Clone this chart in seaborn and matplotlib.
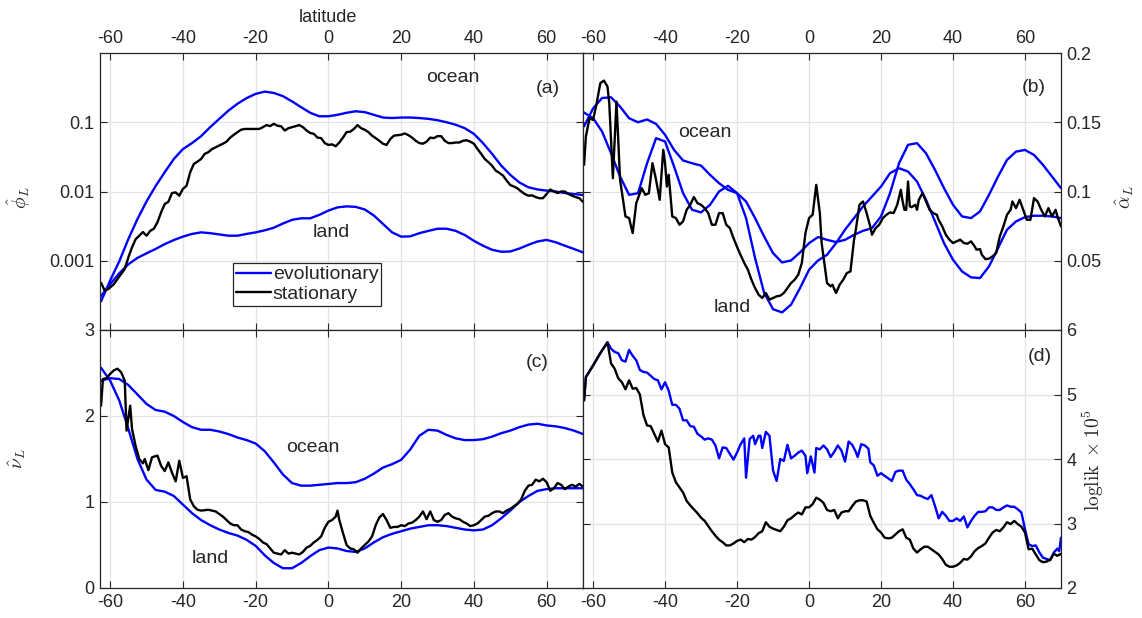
import matplotlib
matplotlib.use("Agg")
import matplotlib.pyplot as plt
import seaborn as sns
import numpy as np
import pandas as pd
from matplotlib.ticker import NullLocator, FixedLocator

# ---------------- DATA ----------------
lat_smooth = [-62.5, -60, -57.5, -55, -52.5, -50, -47.5, -45, -42.5, -40,
              -37.5, -35, -32.5, -30, -27.5, -25, -22.5, -20, -17.5, -15,
              -12.5, -10, -7.5, -5, -2.5, 0, 2.5, 5, 7.5, 10,
              12.5, 15, 17.5, 20, 22.5, 25, 27.5, 30, 32.5, 35,
              37.5, 40, 42.5, 45, 47.5, 50, 52.5, 55, 57.5, 60,
              62.5, 65, 67.5, 70]

# (a) phi_L
phi_ocean_evo = [2.6e-4, 5.2e-4, 9.8e-4, 2.06e-3, 4.0e-3, 7.2e-3, 1.2e-2, 1.9e-2, 2.95e-2, 4.1e-2,
                 5.0e-2, 6.3e-2, 8.5e-2, 0.112, 0.147, 0.185, 0.223, 0.257, 0.277, 0.265,
                 0.238, 0.20, 0.165, 0.137, 0.122, 0.122, 0.128, 0.137, 0.144, 0.140,
                 0.128, 0.117, 0.115, 0.117, 0.117, 0.115, 0.112, 0.107, 0.100, 0.092,
                 0.082, 0.068, 0.050, 0.035, 0.0237, 0.0174, 0.0135, 0.0115, 0.0107, 0.0103,
                 0.0100, 0.0095, 0.0092, 0.0089]
phi_land_evo = [3.1e-4, 4.6e-4, 6.6e-4, 8.9e-4, 1.1e-3, 1.28e-3, 1.48e-3, 1.74e-3, 1.99e-3, 2.23e-3,
                2.44e-3, 2.57e-3, 2.5e-3, 2.4e-3, 2.3e-3, 2.3e-3, 2.44e-3, 2.57e-3, 2.75e-3, 3.0e-3,
                3.45e-3, 3.9e-3, 4.1e-3, 4.1e-3, 4.6e-3, 5.3e-3, 5.9e-3, 6.1e-3, 6.0e-3, 5.5e-3,
                4.5e-3, 3.4e-3, 2.57e-3, 2.23e-3, 2.25e-3, 2.5e-3, 2.7e-3, 2.9e-3, 2.9e-3, 2.7e-3,
                2.35e-3, 1.94e-3, 1.65e-3, 1.44e-3, 1.35e-3, 1.36e-3, 1.5e-3, 1.7e-3, 1.9e-3, 2.0e-3,
                1.85e-3, 1.65e-3, 1.48e-3, 1.32e-3]
lat_phi_stat = [-62.5, -61.5, -60.5, -59, -57.5, -56] + list(range(-55, 71))
phi_stat = [4.8e-4, 3.7e-4, 3.9e-4, 4.6e-4, 5.9e-4, 7.6e-4,
            1.12e-3, 1.56e-3, 2.05e-3, 2.3e-3, 2.6e-3, 2.3e-3, 2.7e-3, 2.9e-3, 3.6e-3, 5.0e-3,
            6.6e-3, 7.1e-3, 9.5e-3, 9.7e-3, 8.7e-3, 1.09e-2, 1.21e-2, 1.9e-2, 2.5e-2, 2.7e-2,
            2.95e-2, 3.5e-2, 3.7e-2, 4.1e-2, 4.35e-2, 4.6e-2, 4.9e-2, 5.25e-2, 6.0e-2, 6.6e-2,
            7.2e-2, 7.8e-2, 8.0e-2, 8.0e-2, 8.0e-2, 8.0e-2, 8.0e-2, 8.5e-2, 9.1e-2, 8.8e-2,
            9.5e-2, 8.9e-2, 8.75e-2, 7.6e-2, 8.2e-2, 8.5e-2, 8.8e-2, 9.1e-2, 8.5e-2, 7.6e-2,
            7.0e-2, 6.8e-2, 6.0e-2, 5.9e-2, 5.0e-2, 4.7e-2, 4.8e-2, 4.5e-2, 5.1e-2, 6.0e-2,
            7.2e-2, 7.3e-2, 8.0e-2, 9.1e-2, 8.2e-2, 7.8e-2, 7.2e-2, 6.4e-2, 5.9e-2, 5.4e-2,
            4.9e-2, 4.7e-2, 5.7e-2, 6.4e-2, 6.5e-2, 6.6e-2, 6.9e-2, 6.5e-2, 6.0e-2, 5.4e-2,
            5.0e-2, 4.9e-2, 5.25e-2, 6.0e-2, 5.9e-2, 6.3e-2, 6.3e-2, 5.4e-2, 5.0e-2, 5.0e-2,
            5.1e-2, 5.1e-2, 5.4e-2, 5.5e-2, 5.25e-2, 4.9e-2, 4.1e-2, 3.5e-2, 2.95e-2, 2.65e-2,
            2.36e-2, 2.0e-2, 1.86e-2, 1.7e-2, 1.44e-2, 1.24e-2, 1.18e-2, 1.11e-2, 1.0e-2, 9.2e-3,
            8.7e-3, 8.8e-3, 8.3e-3, 8.0e-3, 8.0e-3, 9.2e-3, 1.07e-2, 1.0e-2, 9.5e-3, 1.0e-2,
            1.0e-2, 9.2e-3, 8.7e-3, 8.3e-3, 8.0e-3, 7.1e-3]

# (b) alpha_L
alpha_ocean_evo = [0.147, 0.160, 0.1675, 0.168, 0.1613, 0.1529, 0.150, 0.152, 0.1488, 0.1409,
                   0.130, 0.1224, 0.1204, 0.1187, 0.112, 0.106, 0.1012, 0.0988, 0.0928, 0.0808,
                   0.0676, 0.0555, 0.0488, 0.0502, 0.056, 0.0627, 0.0671, 0.0651, 0.0635, 0.0651,
                   0.0687, 0.0716, 0.0736, 0.082, 0.0988, 0.1204, 0.1337, 0.1349, 0.1276, 0.1156,
                   0.1024, 0.0904, 0.082, 0.0808, 0.0856, 0.0976, 0.1108, 0.1228, 0.1288, 0.130,
                   0.1264, 0.1192, 0.1108, 0.1024]
alpha_land_evo = [0.157, 0.1529, 0.1433, 0.1276, 0.1108, 0.0976, 0.0988, 0.1204, 0.1385, 0.1361,
                  0.118, 0.0988, 0.0868, 0.0849, 0.0904, 0.100, 0.1041, 0.0988, 0.0808, 0.052,
                  0.027, 0.015, 0.0127, 0.0183, 0.0303, 0.0435, 0.0502, 0.0543, 0.0627, 0.0724,
                  0.0808, 0.0892, 0.0964, 0.1036, 0.1132, 0.1168, 0.1144, 0.1072, 0.094, 0.0784,
                  0.0627, 0.0507, 0.0423, 0.038, 0.0375, 0.0459, 0.0591, 0.0724, 0.0784, 0.0815,
                  0.0825, 0.0825, 0.082, 0.0808]
lat_alpha_stat = [-62.5, -62, -61, -60, -59, -58, -57, -56, -55.5, -54.5, -53.5, -52.5, -51, -50,
                  -49, -48, -46.5, -45.5, -44.5, -43.5, -42.5, -41.5, -40.5, -40, -39.5, -39, -38,
                  -37, -36, -35, -34, -33, -32, -31, -30, -29, -28, -27, -26, -25, -24, -23, -22,
                  -21, -20, -19, -18, -17, -16, -15, -14, -13, -12, -11, -10, -9, -8, -7, -6, -5,
                  -4, -3, -2, -1, 0, 1, 2, 3, 3.5, 4, 5, 6, 6.5, 7.5, 8.5, 9.5, 10.5, 11.5, 12.5,
                  13, 14, 15, 16, 17, 17.5, 18.5, 19.5, 20.5, 21.5, 22.5, 23.5, 24.5, 25.5, 26,
                  26.5, 27, 27.5, 28, 28.5, 29.5, 30, 30.5, 31.5, 32.5, 33.5, 34.5, 35.5, 36, 37,
                  38, 39, 40, 41, 42, 43, 44, 45, 46, 46.5, 47.5, 48, 49, 50, 51, 52, 53, 54, 55,
                  56, 56.5, 57.5, 58.5, 59.5, 60.5, 61.5, 62.5, 63.5, 64.5, 65.5, 66.5, 67.5,
                  68.5, 69, 70]
alpha_stat = [0.1193, 0.1397, 0.1529, 0.1517, 0.1637, 0.1782, 0.1801, 0.1758, 0.1637, 0.1096,
              0.1649, 0.1084, 0.0820, 0.0808, 0.0700, 0.0916, 0.1024, 0.0976, 0.0988, 0.1205,
              0.1084, 0.0940, 0.1301, 0.1205, 0.1036, 0.1121, 0.0820, 0.0808, 0.0760, 0.0784,
              0.0868, 0.0904, 0.0960, 0.0916, 0.0904, 0.0880, 0.0844, 0.0760, 0.0760, 0.0844,
              0.0844, 0.0760, 0.0736, 0.0664, 0.0600, 0.0540, 0.0484, 0.0436, 0.0363, 0.0303,
              0.0255, 0.0231, 0.0267, 0.0219, 0.0231, 0.0243, 0.0248, 0.0267, 0.0303, 0.0339,
              0.0363, 0.0399, 0.0484, 0.0700, 0.0808, 0.0832, 0.1048, 0.0844, 0.0628, 0.0532,
              0.0339, 0.0315, 0.0327, 0.0267, 0.0327, 0.0363, 0.0411, 0.0423, 0.0652, 0.0724,
              0.0904, 0.0928, 0.0844, 0.0748, 0.0688, 0.0736, 0.0760, 0.0808, 0.0832, 0.0849,
              0.0844, 0.0904, 0.1012, 0.0928, 0.0868, 0.0868, 0.1072, 0.0892, 0.0887, 0.0904,
              0.0868, 0.0940, 0.0988, 0.0928, 0.0868, 0.0844, 0.0832, 0.0796, 0.0748, 0.0688,
              0.0652, 0.0628, 0.0640, 0.0652, 0.0628, 0.0623, 0.0640, 0.0604, 0.0580, 0.0584,
              0.0544, 0.0512, 0.0515, 0.0532, 0.0556, 0.0676, 0.0748, 0.0832, 0.0868, 0.0928,
              0.0880, 0.0940, 0.0868, 0.0796, 0.0796, 0.0952, 0.0928, 0.0868, 0.0820, 0.0880,
              0.0820, 0.0868, 0.0820, 0.0748]

# (c) nu_L
nu_ocean_evo = [2.41, 2.44, 2.43, 2.36, 2.25, 2.14, 2.07, 2.05, 2.00, 1.93,
                1.87, 1.84, 1.84, 1.82, 1.79, 1.75, 1.72, 1.68, 1.59, 1.46,
                1.32, 1.22, 1.19, 1.19, 1.20, 1.21, 1.22, 1.22, 1.23, 1.27,
                1.33, 1.40, 1.44, 1.49, 1.61, 1.77, 1.84, 1.83, 1.78, 1.74,
                1.72, 1.72, 1.73, 1.76, 1.80, 1.83, 1.87, 1.90, 1.91, 1.89,
                1.88, 1.86, 1.83, 1.79]
nu_land_evo = [2.56, 2.41, 2.18, 1.85, 1.50, 1.26, 1.14, 1.12, 1.07, 0.97,
               0.87, 0.79, 0.73, 0.68, 0.64, 0.61, 0.56, 0.49, 0.38, 0.29,
               0.23, 0.23, 0.29, 0.37, 0.44, 0.47, 0.46, 0.43, 0.42, 0.46,
               0.53, 0.59, 0.63, 0.66, 0.69, 0.71, 0.73, 0.73, 0.72, 0.70,
               0.68, 0.67, 0.68, 0.73, 0.81, 0.90, 1.00, 1.07, 1.13, 1.15,
               1.16, 1.16, 1.16, 1.16]
lat_nu_stat = ([-62.5, -62, -61, -60, -59, -58, -57, -56, -55.5, -54.5, -54, -53, -52, -51,
                -50.5, -49.5, -48.5, -47, -46, -45, -44, -43, -42, -41, -40, -39, -38, -37,
                -36, -35, -33, -31] + list(range(-30, 3)) + [2.5] + list(range(3, 71)))
nu_stat = [2.12, 2.43, 2.44, 2.49, 2.53, 2.55, 2.51, 2.41, 1.83, 2.12, 1.85, 1.65, 1.50, 1.45,
           1.50, 1.37, 1.52, 1.54, 1.42, 1.36, 1.46, 1.34, 1.24, 1.48, 1.28, 1.30, 1.03, 0.95,
           0.91, 0.90, 0.91, 0.89,
           0.86, 0.83, 0.79, 0.75, 0.73, 0.73, 0.68, 0.66, 0.65, 0.62,
           0.60, 0.57, 0.53, 0.51, 0.46, 0.41, 0.40, 0.39, 0.44, 0.40,
           0.41, 0.40, 0.39, 0.42, 0.47, 0.49, 0.53, 0.56, 0.60, 0.70,
           0.77, 0.79, 0.83,
           0.90,
           0.79, 0.64, 0.50, 0.46, 0.45, 0.41, 0.46, 0.50, 0.54, 0.60,
           0.73, 0.82, 0.86, 0.79, 0.70, 0.71, 0.71, 0.73, 0.72, 0.75,
           0.76, 0.79, 0.83, 0.89, 0.80, 0.89, 0.79, 0.77, 0.79, 0.85,
           0.87, 0.83, 0.81, 0.80, 0.77, 0.75, 0.72, 0.73, 0.75, 0.79,
           0.83, 0.84, 0.87, 0.89, 0.89, 0.87, 0.90, 0.92, 0.95, 0.98,
           1.03, 1.13, 1.19, 1.20, 1.26, 1.24, 1.27, 1.23, 1.13, 1.16,
           1.22, 1.20, 1.15, 1.18, 1.20, 1.18, 1.21, 1.18]

# (d) loglik x 1e5
lat_ll_evo = ([-62.5, -62, -60, -58, -56] + list(range(-55, -17)) +
              [-17.5, -16.5, -15.5, -15, -14, -13.5, -13, -12, -11, -10, -9, -8, -7, -6, -5,
               -4, -3, -2, -1, -0.5, 0.5, 1.5] + list(range(2, 14)) +
              [13.5, 14.5, 15.5, 16.5] + list(range(17, 70)) + [69.5, 70])
ll_evo = [4.91, 5.27, 5.45, 5.64, 5.81,
          5.71, 5.66, 5.64, 5.53, 5.51, 5.69, 5.60, 5.53, 5.38, 5.35,
          5.34, 5.29, 5.24, 5.22, 5.08, 5.19, 5.06, 4.84, 4.84, 4.78,
          4.60, 4.60, 4.51, 4.50, 4.39, 4.35, 4.30, 4.32, 4.30, 4.21,
          4.01, 4.18, 4.17, 4.08, 3.99, 4.10, 4.23, 4.32,
          3.71, 4.31, 4.36, 4.23, 4.36, 4.36, 4.17, 4.42, 4.36, 3.82, 3.66, 4.00, 3.97, 4.22,
          4.01, 4.05, 4.10, 4.13, 4.05, 3.78, 4.04, 3.79,
          4.17, 4.15, 4.21, 4.15, 4.03, 4.11, 4.21, 4.13, 3.96, 4.27, 4.22, 4.11,
          4.03, 4.23, 4.21, 4.16,
          3.95, 3.90, 3.74, 3.78, 3.74, 3.70, 3.66, 3.80, 3.82, 3.82,
          3.68, 3.61, 3.53, 3.44, 3.43, 3.40, 3.38, 3.44, 3.27, 3.08,
          3.18, 3.12, 3.04, 3.04, 3.08, 3.04, 3.11, 2.94, 3.04, 3.12,
          3.18, 3.18, 3.19, 3.25, 3.25, 3.21, 3.21, 3.25, 3.28, 3.26,
          3.26, 3.22, 3.17, 2.91, 2.68, 2.65, 2.66, 2.55, 2.47, 2.45,
          2.43, 2.55, 2.61,
          2.57, 2.78]
lat_ll_stat = [-62.5, -62, -60, -58, -56] + list(range(-55, 71))
ll_stat = [4.91, 5.27, 5.45, 5.64, 5.81,
           5.48, 5.40, 5.25, 5.19, 5.08, 5.22, 5.09, 5.10, 5.00, 4.68,
           4.52, 4.51, 4.39, 4.27, 4.44, 4.23, 4.18, 3.79, 3.64, 3.56,
           3.48, 3.35, 3.28, 3.22, 3.16, 3.09, 3.04, 2.96, 2.88, 2.81,
           2.75, 2.71, 2.66, 2.66, 2.69, 2.73, 2.75, 2.71, 2.76, 2.75,
           2.79, 2.85, 2.88, 3.02, 2.95, 2.92, 2.90, 2.88, 2.95, 3.05,
           3.08, 3.13, 3.17, 3.14, 3.25, 3.25, 3.30, 3.40, 3.37, 3.32,
           3.21, 3.19, 3.21, 3.08, 3.17, 3.19, 3.19, 3.27, 3.34, 3.36,
           3.36, 3.34, 3.12, 3.01, 2.91, 2.86, 2.78, 2.77, 2.78, 2.83,
           2.88, 2.91, 2.78, 2.75, 2.61, 2.55, 2.60, 2.64, 2.64, 2.60,
           2.56, 2.52, 2.45, 2.36, 2.33, 2.33, 2.35, 2.39, 2.45, 2.44,
           2.49, 2.57, 2.62, 2.65, 2.69, 2.78, 2.86, 2.90, 2.88, 2.94,
           3.02, 2.99, 3.04, 2.99, 2.95, 2.86, 2.60, 2.61, 2.52, 2.43,
           2.40, 2.41, 2.44, 2.53, 2.50, 2.53]

xtick_vals = [-60, -40, -20, 0, 20, 40, 60]
xtick_labels = ["-60", "-40", "-20", "0", "20", "40", "60"]

# ---------------- STYLE ----------------
sns.set_theme(style="whitegrid")
plt.rcParams["font.family"] = ["Liberation Sans", "DejaVu Sans"]
plt.rcParams["mathtext.fontset"] = "cm"

BLUE = "#0000ff"
BLACK = "#000000"
EDGE = "#262626"
LW = 1.7
TICK_FS = 13
TXT_FS = 14

fig = plt.figure(figsize=(11.42, 6.18), dpi=100)
L, M, R = 100 / 1142, 583 / 1142, 1061 / 1142
T, MID, B = 1 - 53 / 618, 1 - 330 / 618, 1 - 588 / 618
ax_a = fig.add_axes([L, MID, M - L, T - MID])
ax_b = fig.add_axes([M, MID, R - M, T - MID])
ax_c = fig.add_axes([L, B, M - L, MID - B])
ax_d = fig.add_axes([M, B, R - M, MID - B])

def line(ax, x, y, color, label=None):
    sns.lineplot(x=x, y=y, ax=ax, color=color, lw=LW, estimator=None, sort=False,
                 label=label if label else "_nolegend_", legend=False)

# (a)
line(ax_a, lat_smooth, phi_ocean_evo, BLUE, "evolutionary")
line(ax_a, lat_smooth, phi_land_evo, BLUE)
line(ax_a, lat_phi_stat, phi_stat, BLACK, "stationary")
ax_a.set_yscale("log")
ax_a.set_ylim(1e-4, 1)
ax_a.yaxis.set_major_locator(FixedLocator([1e-3, 1e-2, 1e-1]))
ax_a.set_yticklabels(["0.001", "0.01", "0.1"])
ax_a.yaxis.set_minor_locator(NullLocator())

# (b)
line(ax_b, lat_smooth, alpha_ocean_evo, BLUE)
line(ax_b, lat_smooth, alpha_land_evo, BLUE)
line(ax_b, lat_alpha_stat, alpha_stat, BLACK)
ax_b.set_ylim(0, 0.2)
ax_b.set_yticks([0.05, 0.1, 0.15, 0.2])
ax_b.set_yticklabels(["0.05", "0.1", "0.15", "0.2"])

# (c)
line(ax_c, lat_smooth, nu_ocean_evo, BLUE)
line(ax_c, lat_smooth, nu_land_evo, BLUE)
line(ax_c, lat_nu_stat, nu_stat, BLACK)
ax_c.set_ylim(0, 3)
ax_c.set_yticks([0, 1, 2, 3])
ax_c.set_yticklabels(["0", "1", "2", "3"])

# (d)
line(ax_d, lat_ll_evo, ll_evo, BLUE)
line(ax_d, lat_ll_stat, ll_stat, BLACK)
ax_d.set_ylim(2, 6)
ax_d.set_yticks([2, 3, 4, 5, 6])
ax_d.set_yticklabels(["2", "3", "4", "5", "6"])

for ax in (ax_a, ax_b, ax_c, ax_d):
    ax.set_xlim(-62.8, 70)
    ax.set_xticks(xtick_vals)
    ax.set_xticklabels(xtick_labels)
    ax.set_xlabel("")
    ax.set_ylabel("")
    ax.grid(True, color="#e3e3e3", lw=0.9)
    ax.set_axisbelow(True)
    for s in ax.spines.values():
        s.set_visible(True)
        s.set_color(EDGE)
        s.set_linewidth(0.9)
    ax.tick_params(axis="both", which="both", direction="in", length=5, width=0.8,
                   color=EDGE, labelcolor=EDGE, labelsize=TICK_FS,
                   top=True, bottom=True, left=True, right=True, pad=4)

for ax in (ax_a, ax_b):
    ax.tick_params(axis="x", labeltop=True, labelbottom=False)
for ax in (ax_c, ax_d):
    ax.tick_params(axis="x", labeltop=False, labelbottom=True)
for ax in (ax_b, ax_d):
    ax.tick_params(axis="y", labelleft=False, labelright=True)
for ax in (ax_a, ax_c):
    ax.tick_params(axis="y", labelleft=True, labelright=False)

# annotations
ax_a.text(0.731, 0.913, "ocean", transform=ax_a.transAxes, ha="center", va="center", fontsize=TXT_FS)
ax_a.text(0.478, 0.351, "land", transform=ax_a.transAxes, ha="center", va="center", fontsize=TXT_FS)
ax_a.text(0.928, 0.873, "(a)", transform=ax_a.transAxes, ha="center", va="center", fontsize=TXT_FS)
ax_b.text(0.254, 0.714, "ocean", transform=ax_b.transAxes, ha="center", va="center", fontsize=TXT_FS)
ax_b.text(0.312, 0.080, "land", transform=ax_b.transAxes, ha="center", va="center", fontsize=TXT_FS)
ax_b.text(0.943, 0.877, "(b)", transform=ax_b.transAxes, ha="center", va="center", fontsize=TXT_FS)
ax_c.text(0.441, 0.543, "ocean", transform=ax_c.transAxes, ha="center", va="center", fontsize=TXT_FS)
ax_c.text(0.228, 0.113, "land", transform=ax_c.transAxes, ha="center", va="center", fontsize=TXT_FS)
ax_c.text(0.905, 0.875, "(c)", transform=ax_c.transAxes, ha="center", va="center", fontsize=TXT_FS)
ax_d.text(0.956, 0.898, "(d)", transform=ax_d.transAxes, ha="center", va="center", fontsize=TXT_FS)

leg = ax_a.legend(loc="upper left", bbox_to_anchor=(0.275, 0.242), fontsize=TXT_FS,
                  frameon=True, fancybox=False, framealpha=1, edgecolor=EDGE,
                  handlelength=1.8, handletextpad=0.1, borderpad=0.15, labelspacing=0.1,
                  borderaxespad=0)
leg.get_frame().set_linewidth(0.9)

fig.text(328 / 1142, 1 - 17 / 618, "latitude", ha="center", va="center", fontsize=13, color=EDGE)
fig.text(19 / 1142, 1 - 197 / 618, r"$\hat{\phi}_L$", ha="center", va="center", rotation=90, fontsize=14, color=EDGE)
fig.text(17 / 1142, 1 - 458 / 618, r"$\hat{\nu}_L$", ha="center", va="center", rotation=90, fontsize=14, color=EDGE)
fig.text(1125 / 1142, 1 - 197 / 618, r"$\hat{\alpha}_L$", ha="center", va="center", rotation=90, fontsize=14, color=EDGE)
fig.text(1093 / 1142, 1 - 460 / 618, r"$\mathrm{loglik}\ \times 10^5$", ha="center", va="center", rotation=90, fontsize=14, color=EDGE)

fig.savefig("out.png", dpi=100)
